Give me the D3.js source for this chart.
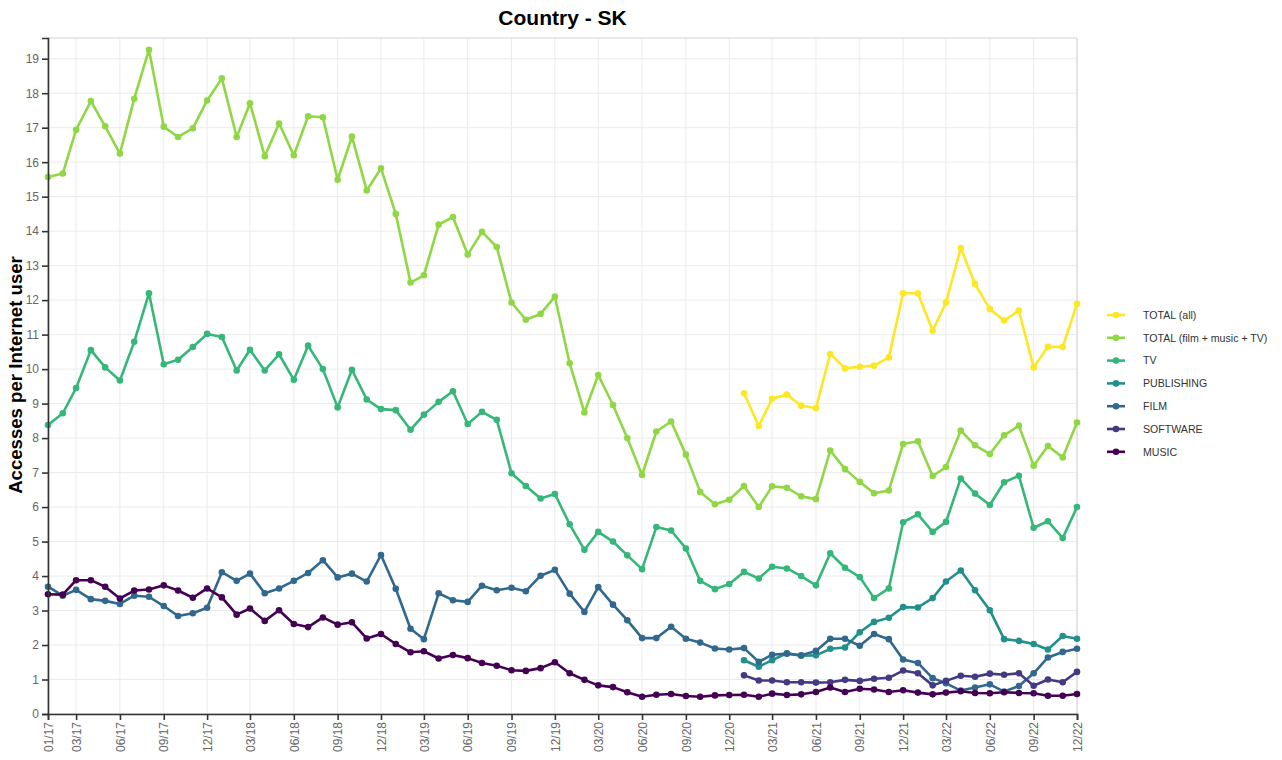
<!DOCTYPE html>
<html>
<head>
<meta charset="utf-8">
<script src="https://cdn.jsdelivr.net/npm/d3@7"></script>
<style>
  body { margin: 0; background: #fff; }
  svg { font-family: "Liberation Sans", Arial, sans-serif; }
</style>
</head>
<body>
<svg id="chart" width="1282" height="760"></svg>
<script>
// months 01/17 .. 12/22
const startYear = 2017, monthCount = 72;
const tickLabels = ["01/17", "03/17", "06/17", "09/17", "12/17", "03/18", "06/18", "09/18", "12/18",
    "03/19", "06/19", "09/19", "12/19", "03/20", "06/20", "09/20", "12/20", "03/21", "06/21",
    "09/21", "12/21", "03/22", "06/22", "09/22", "12/22"];
const yTicks = d3.range(0, 20);

const seriesNames = ["TOTAL (all)", "TOTAL (film + music + TV)", "TV", "PUBLISHING", "FILM", "SOFTWARE", "MUSIC"];
const seriesColours = ["#FDE725", "#8FD744", "#35B779", "#21908C", "#31688E", "#443A83", "#440154"];

// full series from 01/17
const totalFilmMusicTv = [15.57, 15.67, 16.94, 17.77, 17.04, 16.25, 17.84, 19.26, 17.03, 16.73, 16.98, 17.79,
    18.43, 16.73, 17.71, 16.17, 17.12, 16.20, 17.33, 17.30, 15.49, 16.74, 15.18, 15.82,
    14.50, 12.51, 12.72, 14.19, 14.41, 13.32, 13.98, 13.54, 11.93, 11.43, 11.60, 12.10,
    10.17, 8.74, 9.83, 8.96, 8.00, 6.93, 8.19, 8.48, 7.52, 6.44, 6.08, 6.21,
    6.61, 6.00, 6.60, 6.56, 6.31, 6.23, 7.64, 7.10, 6.73, 6.40, 6.48, 7.83,
    7.91, 6.90, 7.16, 8.22, 7.79, 7.54, 8.08, 8.36, 7.20, 7.77, 7.44, 8.45];
const tv = [8.38, 8.72, 9.45, 10.55, 10.05, 9.67, 10.79, 12.20, 10.14, 10.27, 10.64, 11.02,
    10.93, 9.96, 10.56, 9.96, 10.43, 9.69, 10.68, 10.00, 8.89, 9.98, 9.12, 8.84,
    8.81, 8.24, 8.68, 9.05, 9.36, 8.41, 8.76, 8.53, 6.98, 6.61, 6.25, 6.38,
    5.50, 4.76, 5.28, 5.00, 4.60, 4.20, 5.42, 5.32, 4.80, 3.86, 3.62, 3.77,
    4.12, 3.93, 4.27, 4.22, 4.00, 3.73, 4.66, 4.24, 3.97, 3.36, 3.64, 5.56,
    5.79, 5.28, 5.57, 6.83, 6.39, 6.06, 6.72, 6.91, 5.40, 5.59, 5.10, 6.00];
const film = [3.69, 3.43, 3.60, 3.33, 3.28, 3.19, 3.43, 3.40, 3.13, 2.84, 2.92, 3.08,
    4.11, 3.86, 4.07, 3.50, 3.64, 3.86, 4.09, 4.46, 3.96, 4.07, 3.84, 4.61,
    3.63, 2.47, 2.17, 3.50, 3.30, 3.25, 3.72, 3.59, 3.66, 3.56, 4.01, 4.18,
    3.49, 2.96, 3.68, 3.17, 2.72, 2.20, 2.20, 2.53, 2.18, 2.07, 1.90, 1.87,
    1.91, 1.51, 1.72, 1.75, 1.70, 1.83, 2.18, 2.18, 1.98, 2.32, 2.17, 1.58,
    1.48, 1.04, 0.89, 0.68, 0.77, 0.86, 0.65, 0.81, 1.18, 1.64, 1.80, 1.89];
const music = [3.47, 3.46, 3.88, 3.88, 3.69, 3.35, 3.58, 3.61, 3.73, 3.58, 3.37, 3.64,
    3.38, 2.88, 3.06, 2.70, 3.01, 2.61, 2.52, 2.80, 2.59, 2.66, 2.19, 2.32,
    2.03, 1.79, 1.82, 1.61, 1.71, 1.62, 1.48, 1.40, 1.27, 1.25, 1.33, 1.50,
    1.18, 0.99, 0.83, 0.78, 0.63, 0.50, 0.56, 0.58, 0.52, 0.50, 0.54, 0.55,
    0.56, 0.50, 0.59, 0.55, 0.57, 0.64, 0.77, 0.64, 0.73, 0.71, 0.64, 0.69,
    0.62, 0.57, 0.62, 0.66, 0.61, 0.60, 0.63, 0.61, 0.60, 0.53, 0.53, 0.58];

// series that start at 01/21 (month index 48)
const lateStart = 48;
const totalAll = [9.30, 8.35, 9.14, 9.26, 8.94, 8.87, 10.44, 10.02, 10.07, 10.10, 10.34, 12.20,
    12.20, 11.11, 11.93, 13.51, 12.47, 11.74, 11.41, 11.70, 10.05, 10.65, 10.64, 11.89];
const publishing = [1.56, 1.37, 1.56, 1.76, 1.69, 1.70, 1.89, 1.93, 2.37, 2.67, 2.79, 3.10,
    3.09, 3.36, 3.84, 4.16, 3.59, 3.01, 2.17, 2.12, 2.03, 1.87, 2.26, 2.18];
const software = [1.12, 0.97, 0.97, 0.92, 0.92, 0.91, 0.92, 0.99, 0.96, 1.02, 1.05, 1.26,
    1.18, 0.83, 0.96, 1.11, 1.08, 1.17, 1.14, 1.18, 0.82, 1.00, 0.92, 1.22];

const months = d3.range(monthCount).map(i => new Date(startYear + Math.floor(i / 12), i % 12, 1));
const parseLabel = d3.timeParse("%m/%y");

const seriesValues = [
    { start: lateStart, values: totalAll },
    { start: 0, values: totalFilmMusicTv },
    { start: 0, values: tv },
    { start: lateStart, values: publishing },
    { start: 0, values: film },
    { start: lateStart, values: software },
    { start: 0, values: music }
];

const series = seriesNames.map((name, k) => ({
    name: name,
    colour: seriesColours[k],
    points: seriesValues[k].values.map((v, i) => ({ date: months[seriesValues[k].start + i], value: v }))
}));

const svg = d3.select("#chart");
const margin = { top: 38, right: 205, bottom: 46, left: 48 },
    width = 1282 - margin.left - margin.right,
    height = 760 - margin.top - margin.bottom;

const x = d3.scaleTime()
    .domain([months[0], months[monthCount - 1]])
    .range([0, width]);
const y = d3.scaleLinear()
    .domain([0, 19.6])
    .range([height, 0]);

const g = svg.append("g")
    .attr("transform", `translate(${margin.left},${margin.top})`);

// grid
g.append("g")
    .selectAll("line")
    .data(yTicks)
    .enter()
    .append("line")
    .attr("x1", 0).attr("x2", width)
    .attr("y1", d => y(d)).attr("y2", d => y(d))
    .attr("stroke", "#ebebeb").attr("stroke-width", 1);

g.append("g")
    .selectAll("line")
    .data(tickLabels)
    .enter()
    .append("line")
    .attr("x1", d => x(parseLabel(d))).attr("x2", d => x(parseLabel(d)))
    .attr("y1", 0).attr("y2", height)
    .attr("stroke", "#ebebeb").attr("stroke-width", 1);

// panel border
g.append("rect")
    .attr("width", width).attr("height", height)
    .attr("fill", "none").attr("stroke", "#d4d4d4").attr("stroke-width", 1);

// lines and points
const line = d3.line()
    .x(d => x(d.date))
    .y(d => y(d.value));

const seriesG = g.append("g")
    .selectAll("g")
    .data(series)
    .enter()
    .append("g");

seriesG.append("path")
    .attr("d", d => line(d.points))
    .attr("fill", "none")
    .attr("stroke", d => d.colour)
    .attr("stroke-width", 2.6)
    .attr("stroke-linejoin", "round");

seriesG.selectAll("circle")
    .data(d => d.points.map(p => ({ ...p, colour: d.colour })))
    .enter()
    .append("circle")
    .attr("cx", d => x(d.date))
    .attr("cy", d => y(d.value))
    .attr("r", 3.3)
    .attr("fill", d => d.colour);

// axes
const yAxis = g.append("g")
    .call(d3.axisLeft(y).tickValues(yTicks).tickSize(6).tickPadding(3));
yAxis.select(".domain").attr("stroke", "#333").attr("stroke-width", 1.6);
yAxis.selectAll(".tick line").attr("stroke", "#333").attr("stroke-width", 1.6);
yAxis.selectAll(".tick text").attr("fill", "#666").style("font-size", "12px");

const xAxis = g.append("g")
    .attr("transform", `translate(0,${height})`)
    .call(d3.axisBottom(x)
        .tickValues(tickLabels.map(parseLabel))
        .tickFormat(d3.timeFormat("%m/%y"))
        .tickSize(6));
xAxis.select(".domain").attr("stroke", "#333").attr("stroke-width", 1.6);
xAxis.selectAll(".tick line").attr("stroke", "#333").attr("stroke-width", 1.6);
xAxis.selectAll(".tick text")
    .attr("fill", "#666")
    .style("font-size", "12px")
    .attr("transform", "rotate(-90)")
    .attr("text-anchor", "end")
    .attr("x", -8)
    .attr("y", 0)
    .attr("dy", "0.35em");

// title and axis label
svg.append("text")
    .attr("x", margin.left + width / 2)
    .attr("y", 25)
    .attr("text-anchor", "middle")
    .style("font-size", "21px")
    .style("font-weight", "bold")
    .text("Country - SK");

svg.append("text")
    .attr("transform", "rotate(-90)")
    .attr("x", -(margin.top + height / 2) + 1)
    .attr("y", 22)
    .attr("text-anchor", "middle")
    .style("font-size", "18.6px")
    .style("font-weight", "bold")
    .text("Accesses per Internet user");

// legend
const legend = svg.append("g")
    .attr("transform", "translate(1107,315)")
    .selectAll("g")
    .data(series)
    .enter()
    .append("g")
    .attr("transform", (d, i) => `translate(0,${i * 22.8})`);

legend.append("line")
    .attr("x1", 0).attr("x2", 18)
    .attr("stroke", d => d.colour).attr("stroke-width", 2.6);
legend.append("circle")
    .attr("cx", 9).attr("r", 3.3)
    .attr("fill", d => d.colour);
legend.append("text")
    .attr("x", 36)
    .attr("dy", "0.35em")
    .attr("fill", "#333")
    .style("font-size", "10.6px")
    .text(d => d.name);
</script>
</body>
</html>
